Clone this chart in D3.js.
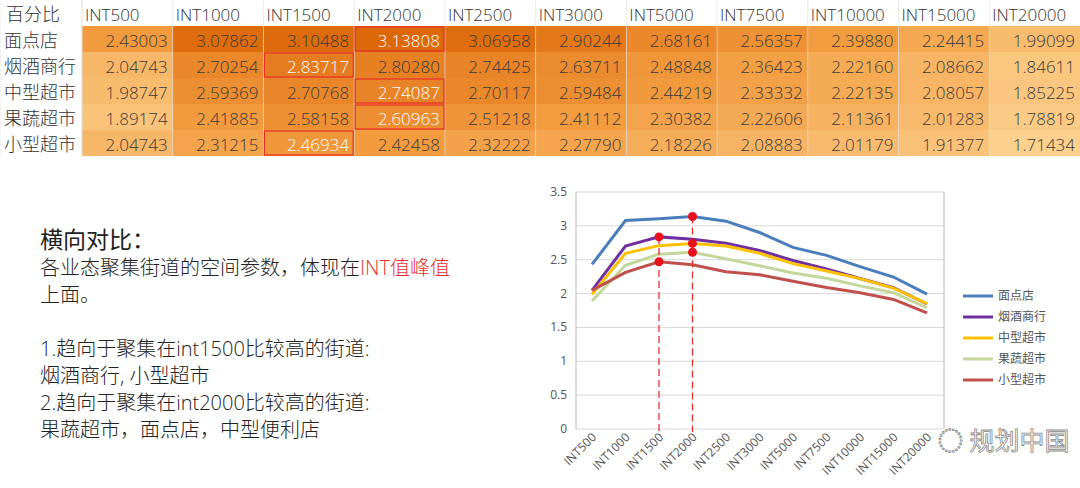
<!DOCTYPE html>
<html><head><meta charset="utf-8">
<script src="https://cdn.jsdelivr.net/npm/d3@7"></script>
<style>body{margin:0;background:#fff;font-family:"Open Sans","Noto Sans CJK SC",sans-serif}</style>
</head><body><svg id="c" width="1080" height="488"></svg>
<script>
var categories = ["INT500","INT1000","INT1500","INT2000","INT2500","INT3000","INT5000","INT7500","INT10000","INT15000","INT20000"];
var seriesNames = ["面点店","烟酒商行","中型超市","果蔬超市","小型超市"];
var mianDian = [2.43003,3.07862,3.10488,3.13808,3.06958,2.90244,2.68161,2.56357,2.39880,2.24415,1.99099];
var yanJiu = [2.04743,2.70254,2.83717,2.80280,2.74425,2.63711,2.48848,2.36423,2.22160,2.08662,1.84611];
var zhongXing = [1.98747,2.59369,2.70768,2.74087,2.70117,2.59484,2.44219,2.33332,2.22135,2.08057,1.85225];
var guoShu = [1.89174,2.41885,2.58158,2.60963,2.51218,2.41112,2.30382,2.22606,2.11361,2.01283,1.78819];
var xiaoXing = [2.04743,2.31215,2.46934,2.42458,2.32222,2.27790,2.18226,2.08883,2.01179,1.91377,1.71434];
var series = [mianDian,yanJiu,zhongXing,guoShu,xiaoXing];
var colors = ["#4a7ebb","#7030a0","#ffc000","#c4d79b","#c0504d"];
var peaks = [[0,3],[1,2],[2,3],[3,3],[4,2]]; // [series, category]
var yTicks = [0,0.5,1,1.5,2,2.5,3,3.5];

var svg = d3.select("#c");
var LIGHT = "300";

// table
var colX = d3.scaleBand().domain(categories).range([82,1080]);
var rowY = d3.scaleBand().domain(["h"].concat(seriesNames)).range([0,156]);
var heat = d3.scaleLinear().domain([1.7,2.4,3.14]).range(["#fcd290","#f29c40","#dc680a"]);
var t = svg.append("g").attr("font-weight",LIGHT);
t.append("text").attr("x",6).attr("y",rowY("h")+21).attr("font-size",18).attr("fill","#333").text("百分比");
categories.forEach(function(c){
  t.append("text").attr("x",colX(c)+3).attr("y",rowY("h")+21).attr("font-size",17).attr("fill","#333").text(c);
});
seriesNames.forEach(function(s,i){
  t.append("text").attr("x",4).attr("y",rowY(s)+21).attr("font-size",18).attr("fill","#333").text(s);
  categories.forEach(function(c,j){
    var v = series[i][j];
    t.append("rect").attr("x",colX(c)).attr("y",rowY(s)).attr("width",colX.bandwidth()).attr("height",rowY.bandwidth()).attr("fill",heat(v));
  });
});
// grid lines
t.selectAll("line.v").data([0,82].concat(categories.map(function(c){return colX(c)}))).enter().append("line")
  .attr("x1",function(d){return d}).attr("x2",function(d){return d}).attr("y1",0).attr("y2",156).attr("stroke","#ddd").attr("stroke-width",0.6);
seriesNames.forEach(function(s,i){
  categories.forEach(function(c,j){
    var pk = peaks.some(function(p){return p[0]==i&&p[1]==j});
    t.append("text").attr("x",colX(c)+colX.bandwidth()-5).attr("y",rowY(s)+21).attr("text-anchor","end")
      .attr("font-size",17).attr("fill",pk?"#fff":"#3a3a3a").text(series[i][j].toFixed(5));
    if(pk) t.append("rect").attr("x",colX(c)+1).attr("y",rowY(s)+1).attr("width",colX.bandwidth()-2).attr("height",rowY.bandwidth()-2)
      .attr("fill","none").attr("stroke","#e8302a").attr("stroke-width",1.2);
  });
});

// text block
var tx = svg.append("g").attr("fill","#222").attr("font-weight",LIGHT);
tx.append("text").attr("x",40).attr("y",248).attr("font-size",23).attr("font-weight","400").text("横向对比：");
var lines = [["各业态聚集街道的空间参数，体现在",275],["上面。",302],["1.趋向于聚集在int1500比较高的街道:",356],["烟酒商行, 小型超市",383],["2.趋向于聚集在int2000比较高的街道:",410],["果蔬超市，面点店，中型便利店",437]];
lines.forEach(function(l,i){
  var el = tx.append("text").attr("x",40).attr("y",l[1]).attr("font-size",20).text(l[0]);
  if(i==0) el.append("tspan").attr("fill","#e8302a").text("INT值峰值");
});

// line chart
var x = d3.scalePoint().domain(categories).range([592,927]);
var y = d3.scaleLinear().domain([0,3.5]).range([429,192]);
var g = svg.append("g");
g.selectAll("line.g").data(yTicks).enter().append("line").attr("x1",576).attr("x2",944)
  .attr("y1",function(d){return y(d)}).attr("y2",function(d){return y(d)}).attr("stroke","#d9d9d9");
g.append("line").attr("x1",576).attr("x2",576).attr("y1",192).attr("y2",429).attr("stroke","#bbb");
g.append("line").attr("x1",944).attr("x2",944).attr("y1",192).attr("y2",429).attr("stroke","#bbb");
g.selectAll("text.y").data(yTicks).enter().append("text").attr("x",567).attr("y",function(d){return y(d)+4})
  .attr("text-anchor","end").attr("font-size",12).attr("fill","#555").text(function(d){return d});
categories.forEach(function(c){
  g.append("text").attr("transform","translate("+(x(c)+5)+",438) rotate(-45)").attr("text-anchor","end")
    .attr("font-size",12).attr("fill","#555").text(c);
});
var line = d3.line().x(function(d,i){return x(categories[i])}).y(function(d){return y(d)});
series.forEach(function(s,i){
  g.append("path").attr("d",line(s)).attr("fill","none").attr("stroke",colors[i]).attr("stroke-width",3);
});
[2,3].forEach(function(j){
  g.append("line").attr("x1",x(categories[j])).attr("x2",x(categories[j])).attr("y1",y(series[j==2?1:0][j])).attr("y2",432)
    .attr("stroke","#e8302a").attr("stroke-width",1.3).attr("stroke-dasharray","7,4");
});
peaks.forEach(function(p){
  g.append("circle").attr("cx",x(categories[p[1]])).attr("cy",y(series[p[0]][p[1]])).attr("r",4.5).attr("fill","#e8101a");
});
seriesNames.forEach(function(s,i){
  var ly = 296+i*21;
  g.append("line").attr("x1",963).attr("x2",993).attr("y1",ly).attr("y2",ly).attr("stroke",colors[i]).attr("stroke-width",3);
  g.append("text").attr("x",998).attr("y",ly+4).attr("font-size",12).attr("fill","#555").text(s);
});
// watermark
svg.append("text").attr("x",938).attr("y",450).attr("font-size",25).attr("fill","#fff").attr("stroke","#888").attr("stroke-width",0.8).text("◌ 规划中国");
</script></body></html>
